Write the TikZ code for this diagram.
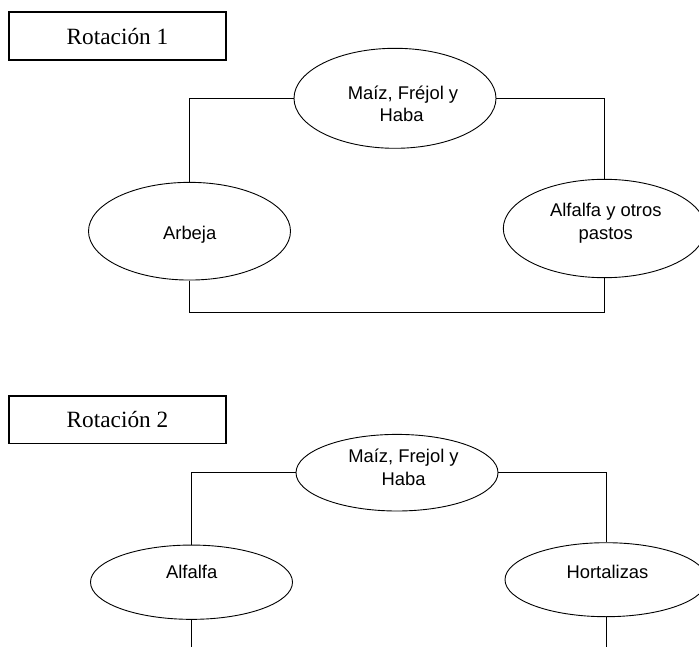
\documentclass[tikz,border=0pt]{standalone}
\usepackage{fontspec}
\setmainfont{Liberation Serif}
\newfontfamily\arialfont{Liberation Sans}
\usetikzlibrary{shapes.geometric}
\begin{document}
\begin{tikzpicture}[x=1pt,y=-1pt,
  titlebox/.style={draw,line width=1.7pt,rectangle,inner sep=0pt,
    minimum width=217pt,minimum height=47.7pt,
    font=\fontsize{23.3}{28}\selectfont},
  crop/.style={draw,line width=0.9pt,ellipse,inner sep=0pt,minimum width=202pt},
  lbl/.style={anchor=base,inner sep=0pt,font=\arialfont\fontsize{18.4}{22.7}\selectfont},
  link/.style={draw,line width=0.9pt}]
\useasboundingbox (0,0) rectangle (699,647);
% ---------- Rotacion 1 ----------
\node[titlebox] (r1) at (117.5,36.2) {Rotación 1};
\node[crop,minimum height=100pt] (a1) at (395,98.3) {};
\node[crop,minimum height=97.7pt] (b1) at (189.5,231.2) {};
\node[crop,minimum height=98.4pt] (c1) at (604.3,228.5) {};
\node[lbl] (a1t1) at (403,100) {Maíz, Fréjol y};
\node[lbl] (a1t2) at (401.5,121.7) {Haba};
\node[lbl] (b1t) at (189.7,240) {Arbeja};
\node[lbl] (c1t1) at (605.8,216.7) {Alfalfa y otros};
\node[lbl] (c1t2) at (605.8,239.3) {pastos};
\coordinate (bot1) at (400,312.7);
\draw[link] (a1.west) -| (b1.north);
\draw[link] (a1.east) -| (c1.north);
\draw[link] (b1.south) |- (bot1) -| (c1.south);
% ---------- Rotacion 2 ----------
\node[titlebox] (r2) at (117.5,419.5) {Rotación 2};
\node[crop,minimum height=76.6pt] (a2) at (397,472.7) {};
\node[crop,minimum height=74.3pt] (b2) at (191.5,582.2) {};
\node[crop,minimum height=74pt] (c2) at (606,579.7) {};
\node[lbl] (a2t1) at (403.5,462.3) {Maíz, Frejol y};
\node[lbl] (a2t2) at (403.5,485) {Haba};
\node[lbl] (b2t) at (191.7,578.3) {Alfalfa};
\node[lbl] (c2t) at (607.5,578.3) {Hortalizas};
\coordinate (endb2) at (191.5,647);
\coordinate (endc2) at (606,647);
\draw[link] (a2.west) -| (b2.north);
\draw[link] (a2.east) -| (c2.north);
\draw[link] (b2.south) -- (endb2);
\draw[link] (c2.south) -- (endc2);
\end{tikzpicture}
\end{document}
